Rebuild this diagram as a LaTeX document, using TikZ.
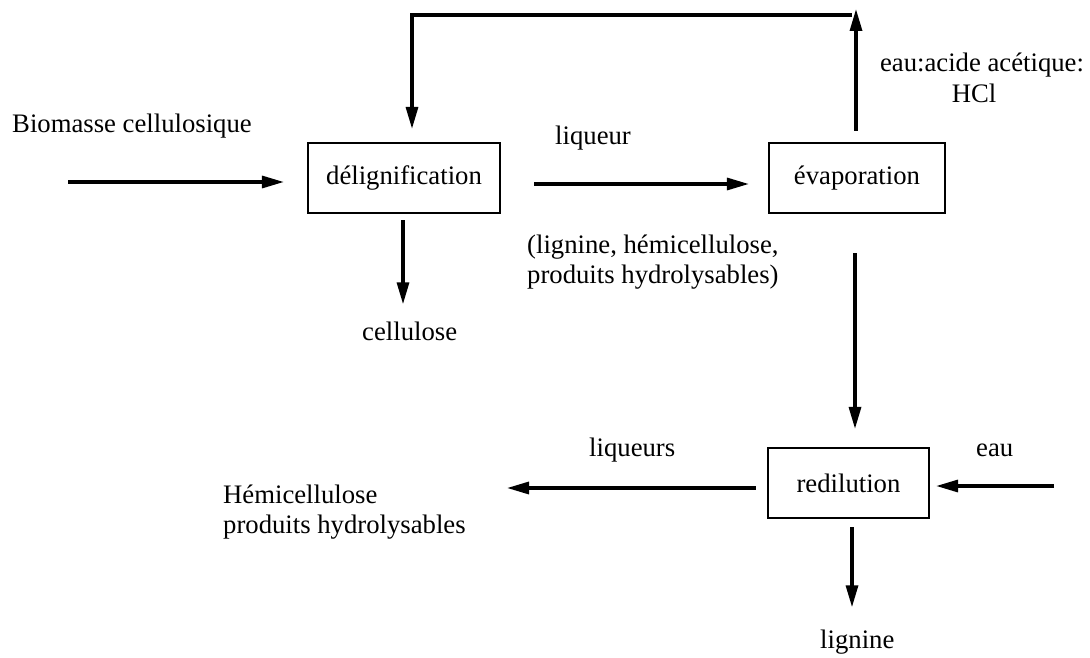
\documentclass[tikz,border=0pt]{standalone}
\usepackage{fontspec}
\setmainfont{Liberation Serif}
\usetikzlibrary{arrows.meta,calc}
\tikzset{
  lbl/.style={inner sep=0pt, font=\fontsize{26.7pt}{30pt}\selectfont},
  procbox/.style={draw, line width=2.2pt, minimum height=70pt, inner sep=0pt, font=\fontsize{26.7pt}{30pt}\selectfont},
  arr/.style={line width=3.2pt, -{Triangle[length=22pt,width=12pt]}}
}
\begin{document}
\begin{tikzpicture}[x=1pt,y=-1pt]
\useasboundingbox[fill=white] (0,0) rectangle (1090,658);
% process boxes
\node[procbox, minimum width=192pt] (deli) at (404,178) {délignification};
\node[procbox, minimum width=176pt] (evap) at (857,178) {évaporation};
\node[procbox, minimum width=161pt] (redil) at (848.5,483) {redilution};
% labels
\node[lbl, anchor=base west] (bio) at (12,133) {Biomasse cellulosique};
\node[lbl, anchor=base west] (liq) at (555,145) {liqueur};
\node[lbl, anchor=base west] (ligA) at (527,253) {(lignine, hémicellulose,};
\node[lbl, anchor=base west] (ligB) at (527,283) {produits hydrolysables)};
\node[lbl, anchor=base] (eauA) at (982,72) {eau:acide acétique:};
\node[lbl, anchor=base] (eauB) at (974,103) {HCl};
\node[lbl, anchor=base west] (cell) at (362,340) {cellulose};
\node[lbl, anchor=base west] (liqs) at (589,456) {liqueurs};
\node[lbl, anchor=base west] (eau) at (976,456) {eau};
\node[lbl, anchor=base west] (hemA) at (223,503) {Hémicellulose};
\node[lbl, anchor=base west] (hemB) at (223,533) {produits hydrolysables};
\node[lbl, anchor=base west] (lig) at (820,648) {lignine};
% free ends
\coordinate (bioin) at (68,182);
\coordinate (topR) at (856,9);
\coordinate (topL) at (852,15);
\coordinate (liqout) at (507,488);
\coordinate (eauin) at (1054,486);
% connectors
\draw[arr, shorten >=23pt] (bioin) -- (bioin -| deli.west);
\draw[arr, shorten <=33pt, shorten >=19pt] ([yshift=-6pt]deli.east) -- ([yshift=-6pt]evap.west);
\draw[arr, shorten <=11pt] ([xshift=-1pt]evap.north) -- (topR);
\draw[arr, shorten >=13pt] (topL) -| ([xshift=8pt]deli.north);
\draw[arr, shorten <=6pt, shorten >=17pt] ([xshift=-1pt]deli.south) -- ([xshift=-1pt]deli.south |- cell.north);
\draw[arr, shorten <=39pt, shorten >=18pt] ([xshift=-2pt]evap.south) -- ([xshift=-2pt]evap.south |- redil.north);
\draw[arr, shorten <=8pt, shorten >=22pt] ([xshift=3.5pt]redil.south) -- ([xshift=3.5pt]redil.south |- lig.north);
\draw[arr, shorten <=11pt] ([yshift=-5pt]redil.west) -- (liqout);
\draw[arr, shorten >=6pt] (eauin) -- (eauin -| redil.east);
\end{tikzpicture}
\end{document}
